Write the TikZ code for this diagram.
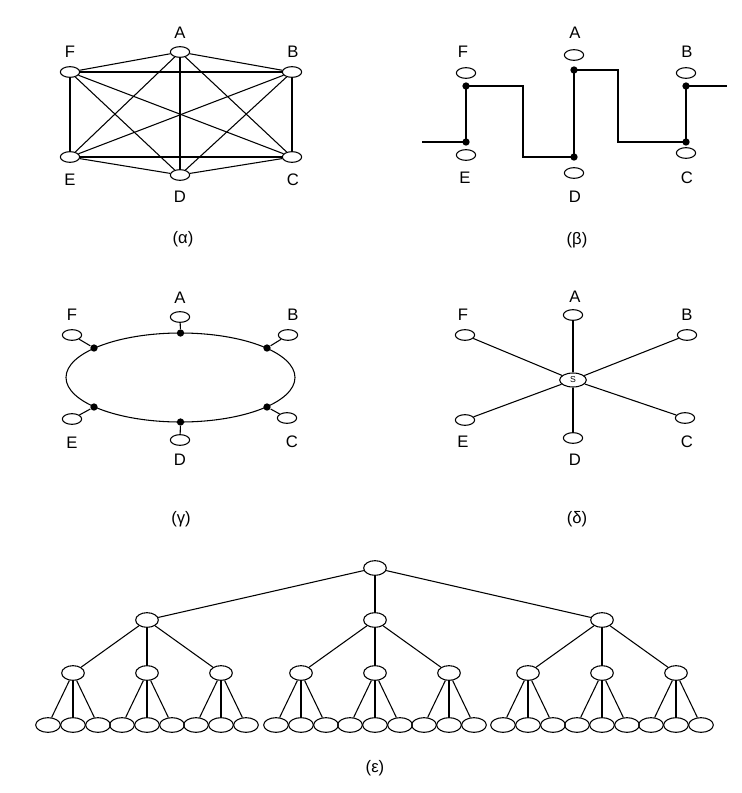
\documentclass[tikz,border=0pt]{standalone}
\usepackage{fontspec}
\setmainfont{Liberation Sans}
\usetikzlibrary{shapes.geometric}

\begin{document}
\begin{tikzpicture}[
  x=0.75pt, y=-0.75pt,
  font=\fontsize{12.5}{14}\selectfont,
  line width=0.8pt,
  port/.style={draw, ellipse, inner sep=0pt, minimum width=14.5pt, minimum height=8pt},
  hub/.style={port, minimum width=20pt, minimum height=10.5pt, font=\fontsize{6.5}{6.5}\selectfont},
  tnode/.style={port, minimum width=17pt, minimum height=11pt},
  tleaf/.style={port, minimum width=18.5pt, minimum height=11pt},
  tap/.style={circle, fill, inner sep=0pt, minimum size=5.5pt},
  bus/.style={line width=1.3pt},
  tag/.style={inner sep=1pt}]
  \useasboundingbox (0,0) rectangle (742,793);
  % (a) full mesh
  \node[port] (aA) at (180,52)  {};
  \node[port] (aB) at (292,72)  {};
  \node[port] (aC) at (292,157) {};
  \node[port] (aD) at (180,175) {};
  \node[port] (aE) at (70,157)  {};
  \node[port] (aF) at (70,72)   {};
  \foreach \p/\q in {aA/aB, aA/aC, aA/aE, aA/aF, aB/aD, aB/aE, aB/aF,
                     aC/aD, aC/aF, aD/aE, aD/aF}
    \draw (\p) -- (\q);
  \draw[bus] (aA) -- (aD); \draw[bus] (aB) -- (aC);
  \draw[bus] (aE) -- (aC); \draw[bus] (aF) -- (aE);
  \foreach \n/\x/\y in {A/180/33, B/293/52, C/293/180, D/180/197, E/70/180, F/70/52}
    \node[tag] (aL\n) at (\x,\y) {\n};
  \node[tag] (capa) at (183,239) {(α)};
  % (b) bus
  \node[port] (bA) at (574,55)  {};
  \node[port] (bB) at (686,73)  {};
  \node[port] (bC) at (686,153) {};
  \node[port] (bD) at (574,173) {};
  \node[port] (bE) at (466,155) {};
  \node[port] (bF) at (466,73)  {};
  \node[tap] (bAd) at (574,70)  {};
  \node[tap] (bBd) at (686,86)  {};
  \node[tap] (bCd) at (686,142) {};
  \node[tap] (bDd) at (574,157) {};
  \node[tap] (bEd) at (466,142) {};
  \node[tap] (bFd) at (466,86)  {};
  \coordinate (bL)  at (422,142);
  \coordinate (bk1) at (523,157);
  \coordinate (bk2) at (618,142);
  \coordinate (bR)  at (727,86);
  \draw[bus] (bL) -- (bEd.center) -- (bFd.center) -| (bk1) -- (bDd.center)
    -- (bAd.center) -| (bk2) -- (bCd.center) -- (bBd.center) -- (bR);
  \foreach \n/\x/\y in {A/575/33, B/687/52, C/687/178, D/575/197, E/465/178, F/463/52}
    \node[tag] (bL\n) at (\x,\y) {\n};
  \node[tag] (capb) at (577,240) {(β)};
  % (c) ring
  \draw (180.5,377.5) ellipse [x radius=114.5, y radius=44.5];
  \node[tap] (gAd) at (180.5,333) {};
  \node[tap] (gBd) at (267,348)   {};
  \node[tap] (gCd) at (267,407)   {};
  \node[tap] (gDd) at (180.5,422) {};
  \node[tap] (gEd) at (94,407)    {};
  \node[tap] (gFd) at (94,348)    {};
  \node[port] (gA) at (180,317) {};
  \node[port] (gB) at (288,335) {};
  \node[port] (gC) at (287,418) {};
  \node[port] (gD) at (180,440) {};
  \node[port] (gE) at (72,419)  {};
  \node[port] (gF) at (72,335)  {};
  \foreach \n in {A,B,C,D,E,F}
    \draw (g\n) -- (g\n d);
  \foreach \n/\x/\y in {A/180/298, B/293/315, C/292/442, D/180/460, E/72/443, F/72/315}
    \node[tag] (gL\n) at (\x,\y) {\n};
  \node[tag] (capg) at (181,519) {(γ)};
  % (d) star
  \node[hub] (dS) at (573,380) {S};
  \node[port] (dA) at (573,315) {};
  \node[port] (dB) at (687,335) {};
  \node[port] (dC) at (685,418) {};
  \node[port] (dD) at (573,438) {};
  \node[port] (dE) at (465,420) {};
  \node[port] (dF) at (465,335) {};
  \foreach \n in {A,B,C,D,E,F}
    \draw (dS) -- (d\n);
  \foreach \n/\x/\y in {A/575/297, B/687/315, C/687/442, D/575/460, E/463/442, F/463/315}
    \node[tag] (dL\n) at (\x,\y) {\n};
  \node[tag] (capd) at (577,519) {(δ)};
  % (e) tree
  \node[tnode] (r) at (375,568) {};
  \foreach \i/\x in {1/147, 2/375, 3/602} {
    \node[tnode] (m\i) at (\x,620) {};
    \draw (r) -- (m\i);
    \foreach \j/\dx in {1/-74, 2/0, 3/74} {
      \node[tnode] (n\i\j) at ({\x+\dx},673) {};
      \draw (m\i) -- (n\i\j);
      \foreach \k/\ddx in {1/-25, 2/0, 3/25} {
        \node[tleaf] (l\i\j\k) at ({\x+\dx+\ddx},725) {};
        \draw (n\i\j) -- (l\i\j\k);
      }
    }
  }
  \node[tag] (cape) at (375,768) {(ε)};
\end{tikzpicture}
\end{document}
